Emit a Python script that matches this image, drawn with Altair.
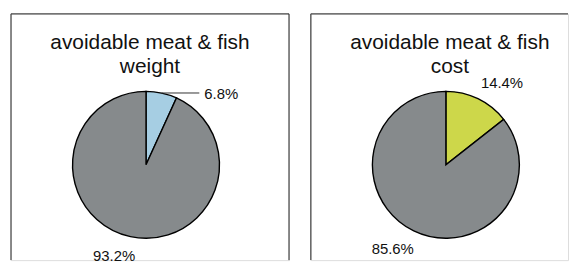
import altair as alt
import pandas as pd

# ---- data ----
weight_cats = ["avoidable (weight)", "other (weight)"]
weight_vals = [6.8, 93.2]
cost_cats = ["avoidable (cost)", "other (cost)"]
cost_vals = [14.4, 85.6]
weight_title = ["avoidable meat & fish", "weight"]
cost_title = ["avoidable meat & fish", "cost"]

GRAY = "#868a8c"
BLUE = "#a6cee3"
YELLOW = "#cdd74a"

H = 248
CX, CY, R = 136, 152, 74
FONT = "Liberation Sans"
FRAME = "#222"


def frame_rule(**enc):
    return alt.Chart(alt.Data(values=[{"k": 0}])).mark_rule(color=FRAME, strokeWidth=1).encode(**enc)


def panel(title, cats, vals, colors, small_cfg, width, right_edge):
    df = pd.DataFrame({"cat": cats, "val": vals, "ord": list(range(len(vals)))})
    base = alt.Chart(df)

    arcs = base.mark_arc(radius=R, stroke="black", strokeWidth=1.4).encode(
        theta=alt.Theta("val:Q", stack=True),
        color=alt.Color("cat:N", scale=alt.Scale(domain=cats, range=colors), legend=None),
        order=alt.Order("ord:Q"),
        x=alt.value(CX),
        y=alt.value(CY),
    )

    def polar(chart, rad):
        return (
            chart.transform_window(cum="sum(val)", sort=[alt.SortField("ord")])
            .transform_joinaggregate(total="sum(val)")
            .transform_calculate(a="2*PI*(datum.cum - datum.val/2)/datum.total")
            .transform_calculate(
                lx=f"{CX} + {rad}*sin(datum.a)",
                ly=f"{CY} - {rad}*cos(datum.a)",
                label="format(datum.val, '.1f') + '%'",
            )
        )

    layers = [
        frame_rule(x=alt.value(0), y=alt.value(0), y2=alt.value(H)),
        frame_rule(x=alt.value(0), x2=alt.value(width), y=alt.value(0)),
    ]
    if right_edge:
        layers.append(frame_rule(x=alt.value(width), y=alt.value(0), y2=alt.value(H)))

    layers.append(arcs)

    big = polar(base, 95).transform_filter("datum.ord == 1").mark_text(
        font=FONT, fontSize=15, color="#111", dx=-12, dy=-1, baseline="middle"
    ).encode(x=alt.X("lx:Q", scale=None), y=alt.Y("ly:Q", scale=None), text="label:N")
    layers.append(big)

    if small_cfg["leader"]:
        lead = polar(base, R).transform_filter("datum.ord == 0").transform_calculate(
            lx2=f"datum.lx + {small_cfg['len']}"
        ).mark_rule(color="#333", strokeWidth=1).encode(
            x=alt.X("lx:Q", scale=None), x2="lx2:Q", y=alt.Y("ly:Q", scale=None)
        )
        layers.append(lead)
        small = polar(base, R).transform_filter("datum.ord == 0").mark_text(
            font=FONT, fontSize=15, color="#111", align="left", baseline="middle",
            dx=small_cfg["dx"], dy=small_cfg["dy"],
        ).encode(x=alt.X("lx:Q", scale=None), y=alt.Y("ly:Q", scale=None), text="label:N")
    else:
        small = polar(base, 95).transform_filter("datum.ord == 0").mark_text(
            font=FONT, fontSize=15, color="#111", baseline="middle",
            dx=small_cfg["dx"], dy=small_cfg["dy"],
        ).encode(x=alt.X("lx:Q", scale=None), y=alt.Y("ly:Q", scale=None), text="label:N")
    layers.append(small)

    ttl = alt.Chart(alt.Data(values=[{"k": 0}])).mark_text(
        font=FONT, fontSize=21, color="#111", lineHeight=25, baseline="alphabetic", align="center"
    ).encode(x=alt.value(140), y=alt.value(35), text=alt.value(title))
    layers.append(ttl)

    return alt.layer(*layers).properties(width=width, height=H)


left = panel(weight_title, weight_cats, weight_vals, [BLUE, GRAY],
             {"leader": True, "len": 38, "dx": 43, "dy": 1}, 280, True)
right = panel(cost_title, cost_cats, cost_vals, [YELLOW, GRAY],
              {"leader": False, "dx": 15, "dy": 3}, 259, False)

chart = (
    alt.hconcat(left, right, spacing=20)
    .resolve_scale(color="independent", theta="independent")
    .properties(padding={"left": 2, "top": 4, "right": 0, "bottom": 0})
    .configure_view(stroke=None)
    .configure(background="white")
)

chart.save("out.html", embed_options={"renderer": "svg", "actions": False})
